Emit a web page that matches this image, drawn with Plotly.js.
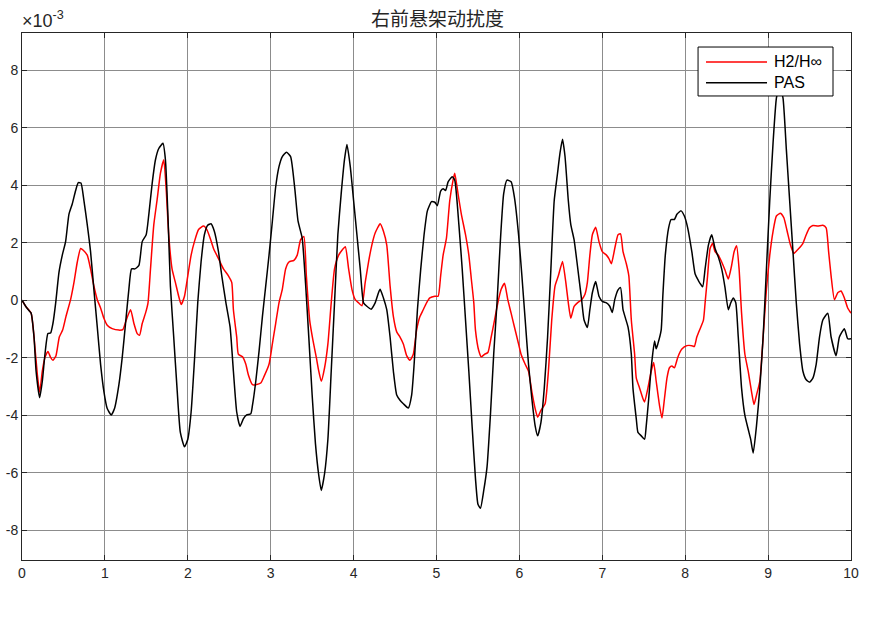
<!DOCTYPE html>
<html><head><meta charset="utf-8">
<script src="https://cdn.plot.ly/plotly-3.0.1.min.js"></script>
<style>html,body{margin:0;padding:0;background:#fff}#c{width:875px;height:619px}</style>
</head><body><div id="c"></div>
<script>
// values in units of 1e-3
const pasX = [0,0.044,0.084,0.11,0.145,0.17,0.213,0.245,0.277,0.313,0.345,0.373,0.406,0.446,0.486,0.526,0.566,0.606,0.647,0.679,0.711,0.747,0.787,0.827,0.867,0.908,0.948,0.988,1.028,1.076,1.116,1.169,1.209,1.249,1.289,1.321,1.361,1.41,1.45,1.498,1.53,1.57,1.61,1.65,1.70,1.73,1.763,1.79,1.83,1.87,1.91,1.96,2.0,2.04,2.08,2.12,2.16,2.2,2.24,2.28,2.32,2.37,2.41,2.46,2.51,2.55,2.59,2.63,2.67,2.71,2.76,2.78,2.82,2.86,2.9,2.94,2.98,3.02,3.06,3.10,3.14,3.19,3.24,3.29,3.33,3.38,3.42,3.46,3.50,3.54,3.58,3.61,3.65,3.69,3.73,3.77,3.81,3.85,3.89,3.92,3.96,4.0,4.04,4.08,4.12,4.16,4.21,4.26,4.3,4.32,4.36,4.4,4.44,4.48,4.52,4.56,4.6,4.66,4.70,4.73,4.77,4.81,4.85,4.89,4.94,4.98,5.01,5.05,5.08,5.11,5.14,5.19,5.22,5.27,5.31,5.35,5.39,5.43,5.47,5.50,5.53,5.57,5.61,5.65,5.69,5.73,5.77,5.81,5.85,5.90,5.94,5.99,6.03,6.07,6.11,6.15,6.19,6.22,6.26,6.30,6.34,6.38,6.42,6.46,6.49,6.52,6.55,6.59,6.62,6.66,6.70,6.75,6.78,6.82,6.85,6.88,6.92,6.96,7.0,7.05,7.09,7.12,7.15,7.19,7.22,7.25,7.28,7.31,7.35,7.37,7.41,7.43,7.47,7.51,7.53,7.56,7.59,7.63,7.65,7.67,7.71,7.73,7.76,7.80,7.83,7.87,7.90,7.95,7.99,8.03,8.08,8.12,8.16,8.21,8.24,8.28,8.32,8.36,8.40,8.44,8.48,8.52,8.55,8.58,8.61,8.64,8.68,8.72,8.76,8.79,8.82,8.86,8.90,8.94,8.98,9.02,9.06,9.10,9.14,9.18,9.22,9.26,9.30,9.34,9.38,9.42,9.46,9.50,9.54,9.58,9.62,9.66,9.72,9.76,9.82,9.86,9.92,9.96,10.0];
const pasY = [0,-0.21,-0.36,-0.45,-1.28,-2.47,-3.39,-2.82,-1.88,-1.16,-1.14,-0.81,-0.10,0.97,1.57,2.04,2.99,3.35,3.82,4.09,4.08,3.47,2.63,1.69,0.38,-0.93,-2.23,-3.18,-3.77,-3.99,-3.77,-2.94,-1.99,-0.81,0.38,1.09,1.09,1.21,2.04,2.28,2.99,4.06,4.89,5.28,5.46,4.89,2.75,0.5,-1.28,-3.06,-4.6,-5.1,-4.84,-3.89,-2.11,-0.09,1.33,2.28,2.61,2.66,2.4,1.69,0.85,-0.09,-0.93,-2.47,-3.89,-4.39,-4.13,-3.99,-3.95,-3.66,-2.82,-1.76,-0.57,0.5,1.57,2.75,3.94,4.65,5.0,5.15,5.0,3.9,2.75,2.16,0.6,-1.3,-3.3,-5.0,-6.1,-6.62,-6.03,-4.84,-2.47,-0.09,2.28,3.70,4.89,5.42,4.65,3.47,2.28,1.09,-0.09,-0.21,-0.31,-0.09,0.26,0.38,0.08,-0.33,-1.28,-2.47,-3.3,-3.48,-3.6,-3.75,-3.3,-2.23,-0.33,1.09,2.28,3.11,3.43,3.41,3.29,3.8,3.88,3.82,4.12,4.30,4.18,2.63,1.09,-0.69,-2.47,-4.4,-6.2,-7.1,-7.24,-6.62,-5.79,-4.01,-1.88,-0.09,2.04,3.70,4.18,4.12,3.58,2.28,0.85,-0.69,-2.23,-3.42,-4.37,-4.72,-4.25,-3.06,-1.28,1.09,3.47,4.42,5.13,5.6,5.01,3.47,2.63,2.1,1.2,0.02,-0.69,-0.95,-0.33,0.26,0.65,0.14,-0.04,-0.09,-0.21,-0.43,0.02,0.36,0.44,-0.33,-0.63,-0.93,-1.88,-3.06,-4.13,-4.6,-4.72,-4.84,-4.37,-3.42,-2.35,-1.42,-1.69,-1.52,-1.04,0.14,1.57,2.52,2.81,2.81,2.99,3.11,2.93,2.52,1.69,0.91,0.68,0.47,1.09,1.92,2.28,1.8,1.5,1.09,0.45,-0.33,-0.09,0.08,-0.09,-1.28,-3.06,-4.01,-4.49,-4.84,-5.32,-4.37,-3.06,-1.28,1.09,3.47,5.48,7.03,7.5,7.03,5.25,3.47,1.69,-0.09,-1.52,-2.47,-2.77,-2.85,-2.71,-2.23,-1.28,-0.69,-0.45,-1.28,-1.93,-1.28,-0.99,-1.34,-1.34];
const hX = [0,0.044,0.11,0.145,0.185,0.213,0.245,0.277,0.313,0.345,0.373,0.41,0.45,0.49,0.53,0.586,0.627,0.667,0.707,0.739,0.787,0.827,0.867,0.908,0.948,0.988,1.028,1.088,1.169,1.217,1.257,1.31,1.35,1.39,1.418,1.45,1.49,1.52,1.55,1.59,1.63,1.67,1.71,1.74,1.77,1.81,1.85,1.89,1.92,1.96,2.0,2.04,2.08,2.13,2.19,2.23,2.27,2.31,2.37,2.43,2.49,2.53,2.55,2.59,2.61,2.66,2.70,2.73,2.78,2.82,2.88,2.92,2.98,3.02,3.06,3.10,3.14,3.18,3.22,3.28,3.32,3.36,3.40,3.43,3.47,3.51,3.55,3.58,3.61,3.65,3.69,3.73,3.77,3.82,3.86,3.90,3.94,3.98,4.02,4.06,4.10,4.14,4.18,4.22,4.26,4.32,4.36,4.40,4.44,4.48,4.52,4.56,4.60,4.64,4.68,4.72,4.76,4.80,4.84,4.88,4.92,4.98,5.02,5.05,5.08,5.12,5.16,5.20,5.22,5.26,5.30,5.35,5.39,5.42,5.45,5.47,5.51,5.54,5.58,5.62,5.66,5.70,5.74,5.78,5.82,5.86,5.90,5.94,5.98,6.02,6.07,6.11,6.15,6.19,6.22,6.26,6.31,6.35,6.39,6.43,6.47,6.52,6.56,6.59,6.62,6.66,6.70,6.75,6.79,6.82,6.85,6.88,6.92,6.96,7.0,7.05,7.08,7.11,7.15,7.19,7.22,7.25,7.29,7.32,7.35,7.39,7.41,7.45,7.49,7.51,7.55,7.59,7.62,7.65,7.69,7.72,7.75,7.78,7.81,7.84,7.87,7.91,7.96,8.02,8.08,8.11,8.14,8.18,8.22,8.24,8.27,8.30,8.33,8.36,8.40,8.44,8.48,8.52,8.56,8.59,8.62,8.65,8.68,8.72,8.76,8.80,8.83,8.86,8.90,8.94,8.98,9.02,9.06,9.10,9.15,9.19,9.23,9.27,9.31,9.35,9.39,9.42,9.46,9.50,9.54,9.60,9.66,9.70,9.73,9.76,9.80,9.84,9.88,9.92,9.96,10.0];
const hY = [0,-0.21,-0.45,-1.28,-2.59,-3.2,-2.47,-1.99,-1.78,-1.99,-2.09,-1.93,-1.28,-1.04,-0.57,0.02,0.62,1.33,1.8,1.74,1.57,1.09,0.5,0.02,-0.27,-0.63,-0.87,-0.99,-1.04,-1.02,-0.69,-0.33,-0.81,-1.16,-1.22,-0.81,-0.45,-0.09,1.09,2.63,3.5,4.42,4.89,3.82,2.28,1.09,0.62,0.14,-0.15,0.14,0.85,1.57,2.04,2.46,2.58,2.46,2.16,1.80,1.45,1.09,0.85,0.62,-0.33,-1.28,-1.88,-1.97,-2.23,-2.59,-2.94,-2.94,-2.88,-2.65,-2.23,-1.52,-0.81,-0.09,0.38,1.09,1.33,1.39,1.57,2.1,2.22,0.85,-0.69,-1.40,-1.99,-2.47,-2.82,-2.35,-1.52,-0.09,1.09,1.57,1.74,1.86,1.09,0.38,0.02,-0.09,-0.19,0.62,1.33,1.92,2.34,2.66,2.4,1.92,0.5,-0.57,-1.10,-1.28,-1.52,-1.93,-2.09,-1.88,-1.04,-0.57,-0.33,-0.09,0.08,0.14,0.14,0.85,1.57,2.16,3.47,4.18,4.42,3.70,2.99,2.28,1.57,0.74,-0.09,-1.04,-1.76,-1.97,-1.88,-1.82,-1.28,-0.69,-0.09,0.38,0.59,0.02,-0.45,-0.93,-1.4,-1.88,-2.23,-2.47,-3.18,-3.77,-4.07,-3.83,-3.60,-2.47,-0.69,0.50,0.85,1.35,0.62,-0.09,-0.63,-0.21,-0.09,0.02,0.20,0.62,1.57,2.28,2.54,2.04,1.69,1.57,1.45,1.27,1.80,2.28,2.31,1.69,1.27,0.85,-0.69,-1.88,-2.71,-3.06,-3.42,-3.54,-3.06,-2.47,-2.17,-2.82,-3.66,-4.1,-3.42,-2.71,-2.35,-2.29,-2.35,-1.99,-1.70,-1.58,-1.58,-1.61,-1.28,-0.99,-0.69,-0.09,0.85,1.80,1.98,1.69,1.57,1.33,1.05,0.74,1.21,1.69,1.90,1.09,-0.45,-1.88,-2.47,-3.18,-3.63,-3.30,-2.82,-1.28,0.38,1.57,2.40,2.93,3.03,2.87,2.40,1.92,1.63,1.74,1.86,1.98,2.28,2.52,2.60,2.58,2.61,2.52,1.69,0.85,0.02,0.26,0.32,0.08,-0.27,-0.45];
const xTicks = [0,1,2,3,4,5,6,7,8,9,10];
const yTicks = [-8,-6,-4,-2,0,2,4,6,8];
const seriesNames = ['H2/H\u221e','PAS'];
const seriesColors = ['#ff0000','#000000'];
const titleText = '右前悬架动扰度';

const traces = [
  {x:hX, y:hY, name:seriesNames[0], type:'scatter', mode:'lines', showlegend:false,
   line:{color:seriesColors[0], width:1.5, shape:'spline', smoothing:0.5}},
  {x:pasX, y:pasY, name:seriesNames[1], type:'scatter', mode:'lines', showlegend:false,
   line:{color:seriesColors[1], width:1.5, shape:'spline', smoothing:0.5}}
];
const axFont = {family:'Liberation Sans, Arial, sans-serif', size:14, color:'#262626'};
const legFont = {family:'Liberation Sans, Arial, sans-serif', size:16, color:'#000'};
// manual MATLAB-style legend (paper coords)
const lgBox = {x0:0.8155, x1:0.9783, y0:0.8805, y1:0.9734};
const lgRows = [0.945, 0.9056];
const shapes = [
  {type:'rect', xref:'paper', yref:'paper', x0:lgBox.x0, x1:lgBox.x1, y0:lgBox.y0, y1:lgBox.y1,
   fillcolor:'#fff', line:{color:'#000', width:1}, layer:'above'}
];
const annotations = [
  {text:'\u00d710<sup>-3</sup>', xref:'paper', yref:'paper', x:-0.002, y:1, xanchor:'left', yanchor:'bottom',
   yshift:0, showarrow:false, font:{family:'Liberation Sans, Arial, sans-serif', size:18, color:'#262626'}}
];
seriesNames.forEach((n,i)=>{
  shapes.push({type:'line', xref:'paper', yref:'paper', x0:0.8251, x1:0.8987, y0:lgRows[i], y1:lgRows[i],
    line:{color:seriesColors[i], width:1.5}, layer:'above'});
  annotations.push({text:n, xref:'paper', yref:'paper', x:0.9045, y:lgRows[i], xanchor:'left', yanchor:'middle',
    showarrow:false, font:legFont});
});
const layout = {
  width:875, height:619,
  margin:{l:22, r:24, t:33, b:59},
  paper_bgcolor:'#fff', plot_bgcolor:'#fff',
  showlegend:false,
  title:{text:titleText, x:0.5, xanchor:'center', y:0.969, yanchor:'middle',
    font:{family:'Noto Sans CJK SC, sans-serif', size:19, color:'#262626'}},
  xaxis:{range:[0,10], tickvals:xTicks, ticktext:xTicks.map(String), ticks:'inside', ticklen:5,
    tickcolor:'#262626', showline:true, linecolor:'#262626', linewidth:1, mirror:'ticks',
    showgrid:true, gridcolor:'#8c8c8c', gridwidth:1, zeroline:false, tickfont:axFont},
  yaxis:{range:[-9.04,9.3], tickvals:yTicks, ticktext:yTicks.map(String), ticks:'inside', ticklen:5,
    tickcolor:'#262626', showline:true, linecolor:'#262626', linewidth:1, mirror:'ticks',
    showgrid:true, gridcolor:'#8c8c8c', gridwidth:1, zeroline:false, tickfont:axFont},
  shapes:shapes,
  annotations:annotations
};
Plotly.newPlot('c', traces, layout, {displayModeBar:false, staticPlot:true});
</script></body></html>
